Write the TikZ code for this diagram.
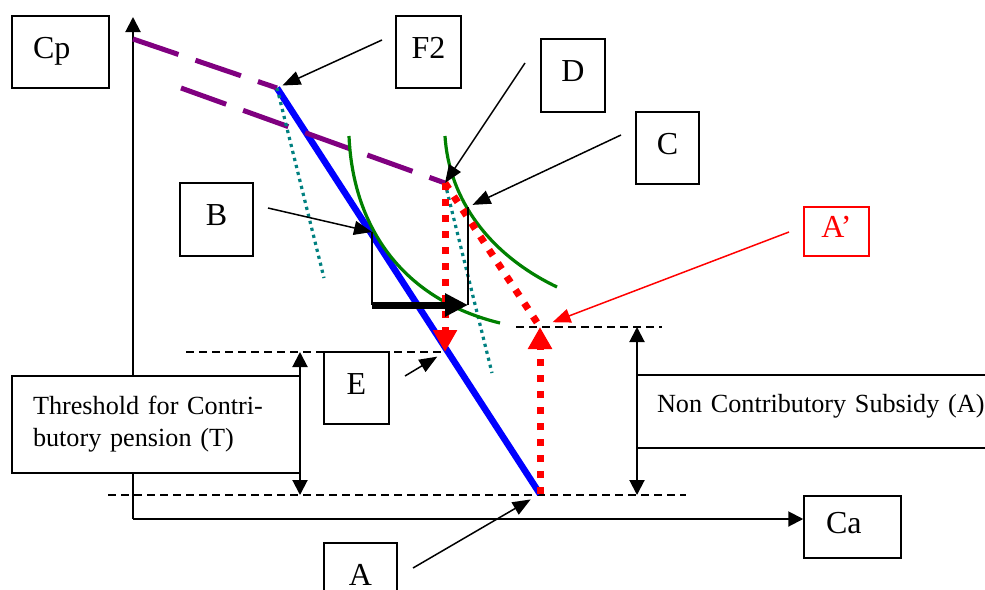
\documentclass[tikz,border=0pt]{standalone}
\usepackage{fontspec}
\setmainfont{Liberation Serif}
\usetikzlibrary{arrows.meta}

\definecolor{budgetblue}{RGB}{0,0,255}
\definecolor{kinkpurple}{RGB}{128,0,128}
\definecolor{slopeteal}{RGB}{0,128,128}
\definecolor{indiffgreen}{RGB}{0,128,0}

\tikzset{
  lbl/.style={draw, line width=0.75pt, inner sep=0pt, font=\fontsize{16}{18}\selectfont,
    text height=11pt, text depth=5pt},
  note/.style={draw, fill=white, line width=0.75pt, inner ysep=0pt, align=left,
    font=\fontsize{13.1}{16}\selectfont},
  axis/.style={line width=1pt, -{Triangle[length=7.5pt,width=7.5pt]}},
  guide/.style={line width=0.7pt, dash pattern=on 4pt off 2.5pt},
  span/.style={line width=1pt, {Triangle[length=7.5pt,width=7.5pt]}-{Triangle[length=7.5pt,width=7.5pt]}},
  pointer/.style={line width=0.75pt, -{Triangle[length=9pt,width=7pt]}},
  tangent/.style={slopeteal, line width=1.6pt, dash pattern=on 1.6pt off 2pt},
  indiff/.style={indiffgreen, line width=1.6pt},
  reddot/.style={red, line width=3.5pt, dash pattern=on 3.5pt off 4.5pt},
  redhead/.style={-{Triangle[length=11pt,width=11.5pt]}}
}

\begin{document}
\begin{tikzpicture}[x=0.5pt,y=-0.5pt]
\clip (0,0) rectangle (985,589);

% Labels
\node[lbl, minimum width=48.5pt, minimum height=36pt, text width=27.5pt, align=left, inner xsep=10.5pt] (cp) at (60.5,52) {Cp};
\node[lbl, minimum width=48.5pt, minimum height=31pt, text width=26.5pt, align=left, inner xsep=11pt] (ca) at (852.5,527) {Ca};
\node[lbl, minimum width=32.5pt, minimum height=36pt] (f2) at (428.5,52) {F2};
\node[lbl, minimum width=32pt, minimum height=36.5pt] (d) at (573,75.5) {D};
\node[lbl, minimum width=31.5pt, minimum height=36pt] (c) at (667.5,148) {C};
\node[lbl, minimum width=36.5pt, minimum height=36.5pt] (b) at (216.5,219.5) {B};
\node[lbl, minimum width=32.5pt, minimum height=36pt] (e) at (356.5,388) {E};
\node[lbl, minimum width=36.5pt, minimum height=36pt] (a) at (360.5,579) {A};
\node[lbl, red, minimum width=32.5pt, minimum height=24.5pt] (aprime) at (836.5,231.5) {A’};

% Points
\coordinate (O) at (133,519);
\coordinate (ytop) at (133,17);
\coordinate (pstart) at (133,39);
\coordinate (qstart) at (181,88);
\coordinate (kink) at (277,88);
\coordinate (dpt) at (445,183);
\coordinate (bpt) at (372,232);
\coordinate (cpt) at (468,207);
\coordinate (bbot) at (372,305);
\coordinate (cbot) at (468,305);
\coordinate (ept) at (445,352);
\coordinate (apr) at (540,327);
\coordinate (apt) at (540,494);

% Axes
\draw[axis] (O) -- (ytop);
\draw[axis] (O) -- (O -| ca.west);

% Guides
\draw[guide] (516,327) -- (662,327);
\draw[guide] (186,352) -- (ept);
\draw[guide] (108,495) -- (686,495);
\draw[span] (300,352) -- (300,495);
\draw[span] (637,327) -- (637,495);

% Budget lines
\draw[budgetblue, line width=3.25pt] (kink) -- (apt);
\draw[kinkpurple, line width=2.5pt, dash pattern=on 24pt off 9pt] (pstart) -- (kink);
\draw[kinkpurple, line width=2.5pt, dash pattern=on 24pt off 9pt] (qstart) -- (dpt);
\draw[tangent] (kink) -- (324,278);
\draw[tangent] (dpt) -- (492,373);

% Indifference curves
\draw[indiff] (349,136) .. controls (353,230) and (405,300) .. (500,323);
\draw[indiff] (445,136) .. controls (449,200) and (490,255) .. (557,287);

% Moves
\draw[reddot] (dpt) -- (apr);
\draw[reddot, redhead] (dpt) -- (ept);
\draw[reddot, redhead] (apt) -- (apr);
\draw[line width=0.75pt] (bpt) -- (bbot) (cbot) -- (cpt);
\draw[line width=3.5pt, -{Triangle[length=11.5pt,width=11pt]}] (bbot) -- (cbot);

% Pointers
\coordinate (f2src) at (382,40);
\coordinate (dsrc) at (525,63);
\coordinate (csrc) at (621,135);
\coordinate (bsrc) at (268,208);
\coordinate (esrc) at (405,376);
\coordinate (asrc) at (413,568);
\coordinate (aprsrc) at (789,232);
\draw[pointer, shorten >=3pt] (f2src) -- (kink);
\draw[pointer] (dsrc) -- (dpt);
\draw[pointer, shorten >=2.5pt] (csrc) -- (cpt);
\draw[pointer] (bsrc) -- (bpt);
\draw[pointer, shorten >=4.5pt] (esrc) -- (ept);
\draw[pointer, shorten >=5.4pt] (asrc) -- (apt);
\draw[pointer, red, shorten >=6.7pt] (aprsrc) -- (apr);

% Text boxes
\node[note, minimum width=144pt, minimum height=48.5pt, text width=123pt, inner xsep=10.5pt] (thresh) at (156,424.5) {Threshold for Contri-\\butory pension (T)};
\node[note, minimum width=191.5pt, minimum height=36.5pt, text width=171.5pt, inner xsep=10pt, text height=9pt, text depth=8.2pt] (subsidy) at (828.5,411.5) {Non Contributory Subsidy (A)};
\end{tikzpicture}
\end{document}
